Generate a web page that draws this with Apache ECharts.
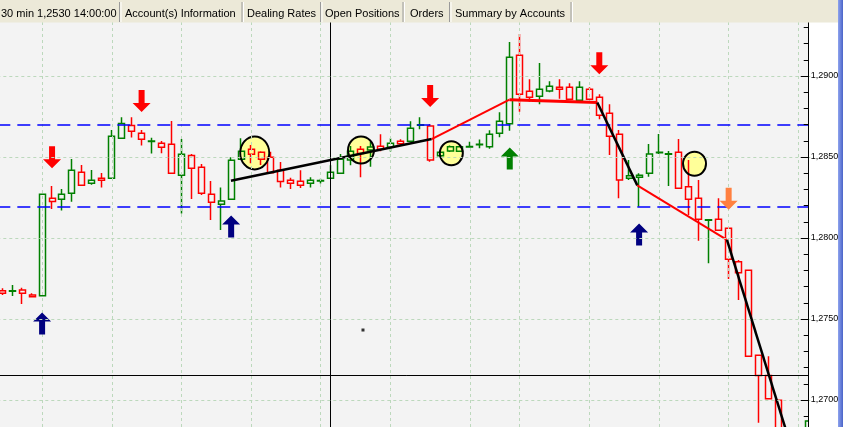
<!DOCTYPE html>
<html><head><meta charset="utf-8">
<style>html,body{margin:0;padding:0;background:#fff;overflow:hidden}#c{width:843px;height:427px}</style>
<script src="https://cdn.jsdelivr.net/npm/echarts@6/dist/echarts.min.js"></script>
</head><body><div id="c"></div>
<script>
// ---- data ----
const categories = ['0','1','2','3','4','5','6','7','8','9','10','11','12','13','14','15','16','17','18','19','20','21','22','23','24','25','26','27','28','29','30','31','32','33','34','35','36','37','38','39','40','41','42','43','44','45','46','47','48','49','50','51','52','53','54','55','56','57','58','59','60','61','62','63','64','65','66','67','68','69','70','71','72','73','74','75','76','77','78','79','80','81'];
const opens = [1.27675,1.27671,1.27679,1.27648,1.27644,1.28245,1.28239,1.28276,1.28406,1.28338,1.28369,1.28369,1.28615,1.28694,1.28646,1.28596,1.28585,1.28578,1.28387,1.28510,1.28436,1.28270,1.28208,1.28239,1.28486,1.28548,1.28529,1.28498,1.28418,1.28356,1.28350,1.28338,1.28352,1.28369,1.28399,1.28481,1.28548,1.28543,1.28566,1.28560,1.28597,1.28597,1.28696,1.28691,1.28508,1.28537,1.28535,1.28562,1.28576,1.28564,1.28646,1.28706,1.29128,1.28906,1.28875,1.28907,1.28930,1.28930,1.28850,1.28918,1.28869,1.28770,1.28640,1.28369,1.28375,1.28399,1.28527,1.28517,1.28529,1.28317,1.28245,1.28109,1.28115,1.28060,1.27854,1.27801,1.27276,1.27152,1.26998,null,null,1.26700];
const closes = [1.27659,1.27674,1.27659,1.27638,1.28270,1.28225,1.28270,1.28418,1.28325,1.28356,1.28356,1.28628,1.28707,1.28659,1.28609,1.28599,1.28560,1.28399,1.28517,1.28430,1.28276,1.28220,1.28228,1.28480,1.28535,1.28517,1.28486,1.28403,1.28349,1.28338,1.28325,1.28356,1.28355,1.28406,1.28486,1.28535,1.28522,1.28562,1.28548,1.28585,1.28582,1.28677,1.28699,1.28481,1.28529,1.28564,1.28564,1.28565,1.28579,1.28640,1.28720,1.29115,1.28887,1.28869,1.28918,1.28936,1.28918,1.28856,1.28930,1.28856,1.28757,1.28628,1.28358,1.28385,1.28387,1.28519,1.28530,1.28520,1.28307,1.28239,1.28115,1.28112,1.28048,1.27869,1.27786,1.27270,1.27152,1.27008,1.26750,null,null,1.26870];
const lows = [1.27648,1.27642,1.27593,1.27632,1.27644,1.28179,1.28169,1.28224,1.28325,1.28329,1.28311,1.28369,1.28615,1.28620,1.28571,1.28522,1.28523,1.28399,1.28152,1.28241,1.28265,1.28111,1.28049,1.28239,1.28486,1.28461,1.28451,1.28403,1.28311,1.28302,1.28309,1.28311,1.28336,1.28364,1.28399,1.28449,1.28375,1.28440,1.28535,1.28534,1.28572,1.28597,1.28671,1.28471,1.28506,1.28531,1.28531,1.28562,1.28554,1.28551,1.28622,1.28662,1.28780,1.28841,1.28825,1.28899,1.28860,1.28856,1.28850,1.28856,1.28733,1.28512,1.28245,1.28358,1.28193,1.28378,1.28519,1.28321,1.28307,1.28142,1.27983,1.27844,1.28048,1.27747,1.27617,1.27270,1.26860,1.27004,1.26700,null,null,1.26650];
const highs = [1.27690,1.27710,1.27693,1.27659,1.28270,1.28321,1.28302,1.28488,1.28451,1.28420,1.28401,1.28667,1.28745,1.28745,1.28667,1.28619,1.28599,1.28722,1.28611,1.28519,1.28457,1.28352,1.28311,1.28498,1.28615,1.28574,1.28535,1.28533,1.28469,1.28372,1.28418,1.28375,1.28366,1.28449,1.28519,1.28568,1.28568,1.28594,1.28640,1.28615,1.28609,1.28720,1.28745,1.28704,1.28534,1.28571,1.28568,1.28594,1.28608,1.28665,1.28776,1.29210,1.29259,1.28980,1.29080,1.28967,1.28980,1.28955,1.28967,1.28930,1.28887,1.28825,1.28667,1.28481,1.28399,1.28580,1.28642,1.28537,1.28611,1.28481,1.28358,1.28115,1.28245,1.28062,1.27864,1.27801,1.27276,1.27270,1.27000,null,null,1.26875];
const yMin = 1.265, yMax = 1.295, yStep = 0.005;
const levelLines = [1.28702, 1.28190];
const timeGridIdx = [4, 11, 18, 25, 32, 39, 47, 52, 59, 66, 73, 80];
const crossIdx = 33;
const crossPrice = 1.27152;
const redDown = [[5, 1.28499], [14, 1.28846], [43, 1.28877], [60, 1.29078]];
const navyUp = [[4, 1.27472], [23, 1.28071], [64, 1.28022]];
const greenUp = [[51, 1.28490]];
const orangeDown = [[73, 1.28242]];
const circles = [[25.37, 1.28525], [36.05, 1.28543], [45.13, 1.28523], [69.57, 1.28458]];
const dots = [[36.25, 1.27432]];
const trendBlack1 = [[22.98, 1.28354], [43.15, 1.28611]];
const trendRed1 = [[43.15, 1.28611], [50.97, 1.28854]];
const trendRed2 = [[50.97, 1.28854], [59.8, 1.28836]];
const trendBlack2 = [[59.8, 1.28836], [63.82, 1.28325]];
const trendRed3 = [[63.82, 1.28325], [72.83, 1.27988]];
const trendBlack3 = [[72.83, 1.27988], [79.07, 1.26753]];
const tabLabels = ['30 min 1,2530 14:00:00', 'Account(s) Information', 'Dealing Rates', 'Open Positions', 'Orders', 'Summary by Accounts'];

// ---- styles / layout ----
const CIRCLE_SIZES = [[29, 33], [26, 27], [23, 24], [23, 24]];
const TAB_EDGES = [0, 119.5, 242, 320.5, 403, 449.5, 571];
const TAB_TEXT_X = [1, 125, 247, 325, 410, 455];
const DOWN = 'path://M6,0L12,0L12,13L18,13L9,22L0,13L6,13Z';
const UP = 'path://M9,0L18,9L12,9L12,22L6,22L6,9L0,9Z';
const GRIDC = '#bcd8bc';

const candleData = opens.map((o, i) => o == null ? '-' : [o, closes[i], lows[i], highs[i]]);

function seg(data, color, width) {
  return { type: 'line', xAxisIndex: 1, yAxisIndex: 0, data: data, symbol: 'none', z: 5,
    lineStyle: { color: color, width: width }, silent: true, animation: false };
}
function arrows(data, sym, color) {
  return { type: 'scatter', xAxisIndex: 1, yAxisIndex: 0, data: data, symbol: sym, symbolSize: [18, 22],
    itemStyle: { color: color, opacity: 1 }, z: 7, silent: true };
}

const graphics = [
  { type: 'rect', shape: { x: 809, y: 0, width: 29, height: 427 }, style: { fill: '#ffffff' }, z: 10 },
  { type: 'rect', shape: { x: 0, y: 0, width: 838, height: 22.5 }, style: { fill: '#ece9d8' }, z: 100 },
  { type: 'rect', shape: { x: 838, y: 0, width: 5, height: 427 },
    style: { fill: new echarts.graphic.LinearGradient(0, 0, 1, 0, [{ offset: 0, color: '#8ea3ee' }, { offset: 1, color: '#4a64c8' }]) }, z: 100 }
];
for (let i = 1; i < TAB_EDGES.length; i++) {
  const x = TAB_EDGES[i];
  graphics.push({ type: 'line', shape: { x1: x, y1: 2, x2: x, y2: 22 }, style: { stroke: '#9a9a9a', lineWidth: 1 }, z: 101 });
  graphics.push({ type: 'line', shape: { x1: x + 1.5, y1: 2, x2: x + 1.5, y2: 22 }, style: { stroke: '#ffffff', lineWidth: 1 }, z: 101 });
}
tabLabels.forEach((t, i) => {
  graphics.push({ type: 'text', x: TAB_TEXT_X[i], y: 14, z: 102,
    style: { text: t, fill: '#000', font: '11px "Liberation Sans", Arial, sans-serif', verticalAlign: 'middle', align: 'left' } });
});

const chart = echarts.init(document.getElementById('c'), null, { renderer: 'canvas' });
chart.setOption({
  animation: false,
  backgroundColor: '#ffffff',
  grid: { left: -2.675, right: 29.775, top: -5, bottom: -54, show: true, backgroundColor: '#f3f3f3', borderWidth: 0, containLabel: false, outerBoundsMode: 'none' },
  xAxis: [
    { type: 'category', data: categories, boundaryGap: true, show: false },
    { type: 'value', min: -0.5, max: 81.5, show: false, splitLine: { show: false } }
  ],
  yAxis: {
    type: 'value', position: 'right', min: yMin, max: yMax, interval: yStep, offset: -4.5, z: 20,
    axisLine: { show: true, onZero: false, lineStyle: { color: '#000', width: 1 } },
    axisTick: { show: true, inside: true, length: 8, lineStyle: { color: '#000' } },
    minorTick: { show: true, splitNumber: 5, length: 5, lineStyle: { color: '#000' } },
    axisLabel: { margin: 2, color: '#000', fontSize: 9, fontFamily: '"Liberation Sans", Arial, sans-serif',
      formatter: v => v.toFixed(4).replace('.', ',') },
    splitLine: { show: true, lineStyle: { color: GRIDC, type: [3, 3], width: 1 } },
    minorSplitLine: { show: false }
  },
  graphic: graphics,
  series: [
    { type: 'line', xAxisIndex: 1, yAxisIndex: 0, data: [], z: 1, silent: true,
      markLine: { silent: true, symbol: 'none', label: { show: false }, animation: false, precision: 6,
        lineStyle: { color: GRIDC, type: [3, 3], width: 1 },
        data: timeGridIdx.map(v => ({ xAxis: v })) } },
    { type: 'scatter', xAxisIndex: 1, yAxisIndex: 0, data: circles, symbol: 'circle',
      symbolSize: (v, p) => CIRCLE_SIZES[p.dataIndex], itemStyle: { color: '#ffff99', opacity: 1 }, z: 2, silent: true },
    { type: 'candlestick', xAxisIndex: 0, yAxisIndex: 0, data: candleData, barWidth: 6.5, z: 3, silent: true,
      itemStyle: { color: 'transparent', color0: 'transparent', borderColor: '#008000', borderColor0: '#ff0000', borderWidth: 1.5 } },
    { type: 'scatter', xAxisIndex: 1, yAxisIndex: 0, data: circles, symbol: 'circle',
      symbolSize: (v, p) => CIRCLE_SIZES[p.dataIndex],
      itemStyle: { color: 'transparent', borderColor: '#000', borderWidth: 2, opacity: 1 }, z: 4, silent: true },
    { type: 'line', xAxisIndex: 1, yAxisIndex: 0, data: [], z: 6, silent: true,
      markLine: { silent: true, symbol: 'none', label: { show: false }, animation: false, precision: 6,
        data: [
          { yAxis: levelLines[0], lineStyle: { color: '#0000ff', type: [13, 7], width: 1.5 } },
          { yAxis: levelLines[1], lineStyle: { color: '#0000ff', type: [13, 7], width: 1.5 } },
          { xAxis: crossIdx, lineStyle: { color: '#000', type: 'solid', width: 1 } },
          { yAxis: crossPrice, lineStyle: { color: '#000', type: 'solid', width: 1 } }
        ] } },
    seg(trendBlack1, '#000000', 2.5),
    seg(trendRed1, '#ff0000', 2),
    seg(trendRed2, '#ff0000', 3),
    seg(trendBlack2, '#000000', 2.5),
    seg(trendRed3, '#ff0000', 2),
    seg(trendBlack3, '#000000', 2.5),
    arrows(redDown, DOWN, '#ff0000'),
    arrows(navyUp, UP, '#000080'),
    arrows(greenUp, UP, '#008000'),
    arrows(orangeDown, DOWN, '#ff8040'),
    { type: 'scatter', xAxisIndex: 1, yAxisIndex: 0, data: dots, symbol: 'rect', symbolSize: 3,
      itemStyle: { color: '#000' }, z: 7, silent: true }
  ]
});
</script></body></html>
